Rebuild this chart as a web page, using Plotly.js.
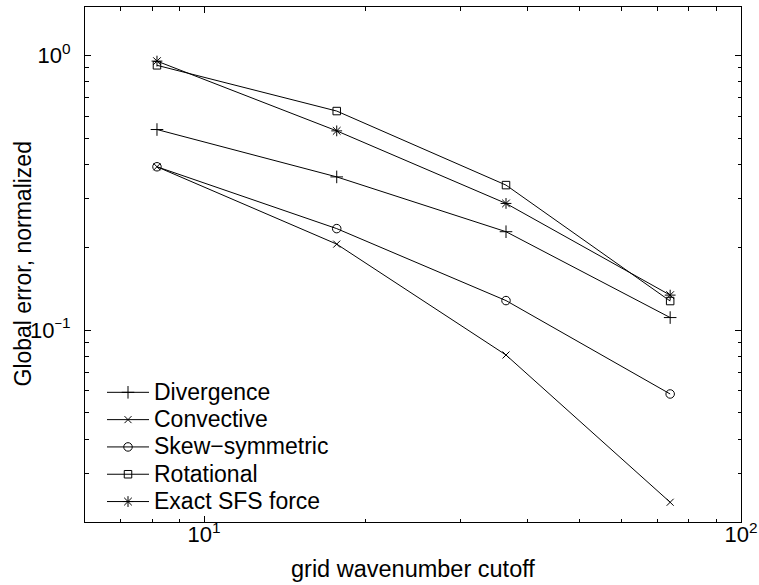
<!DOCTYPE html>
<html>
<head>
<meta charset="utf-8">
<script src="https://cdn.plot.ly/plotly-3.0.1.min.js"></script>
<style>
  html, body { margin: 0; padding: 0; background: #ffffff; }
  #chart { width: 759px; height: 585px; }
</style>
</head>
<body>
<div id="chart"></div>
<script>
// Grid wavenumber cutoffs (x) shared by every method
const cutoff = [8.17, 17.66, 36.5, 73.8];

// Normalized global error for each SGS formulation
const divergence    = [0.537, 0.361, 0.228, 0.111];
const convective    = [0.393, 0.2055, 0.0811, 0.0236];
const skewSymmetric = [0.393, 0.234, 0.128, 0.0585];
const rotational    = [0.920, 0.627, 0.337, 0.1275];
const exactSFS      = [0.953, 0.531, 0.289, 0.134];

// Decade tick positions and their labels
const xTickVals = [10, 100];
const xTickText = ['10<sup>1</sup>', '10<sup>2</sup>'];
const yTickVals = [0.1, 1];
// a slightly narrower minus keeps the exponent compact
const yTickText = ['10<sup><span style="font-size:13px">\u2212</span>1</sup>', '10<sup>0</sup>'];

const xTitle = 'grid wavenumber cutoff';
const yTitle = 'Global error, normalized';

const seriesNames = ['Divergence', 'Convective', 'Skew\u2212symmetric', 'Rotational', 'Exact SFS force'];
const seriesData  = [divergence, convective, skewSymmetric, rotational, exactSFS];
const seriesSymbols = ['cross-thin-open', 'x-thin-open', 'circle-open', 'square-open', 'asterisk-open'];
const symbolSizes   = [9, 7, 8.5, 7.5, 9];

const FONT = 'Liberation Sans, Arial, Helvetica, sans-serif';

const traces = seriesData.map((vals, i) => ({
  type: 'scatter',
  mode: 'lines+markers',
  // larger legend text while keeping compact row spacing
  name: '<span style="font-size:23px">' + seriesNames[i] + '</span>',
  x: cutoff,
  y: vals,
  line: { color: '#000000', width: 1 },
  marker: {
    symbol: seriesSymbols[i],
    size: symbolSizes[i],
    color: '#000000',
    line: { color: '#000000', width: 1 }
  }
}));

const axisCommon = {
  type: 'log',
  showline: true,
  linecolor: '#000000',
  linewidth: 1,
  mirror: 'ticks',
  ticks: 'inside',
  ticklen: 6,
  tickwidth: 1,
  tickcolor: '#000000',
  showgrid: false,
  zeroline: false,
  tickmode: 'array',
  tickfont: { family: FONT, size: 22, color: '#000000' },
  minor: { ticks: 'inside', ticklen: 3.5, dtick: 'D1', tickcolor: '#000000', tickwidth: 1, showgrid: false }
};

const layout = {
  width: 759,
  height: 585,
  margin: { l: 85, r: 18, t: 7, b: 63 },
  paper_bgcolor: '#ffffff',
  plot_bgcolor: '#ffffff',
  showlegend: true,
  font: { family: FONT, color: '#000000' },
  xaxis: Object.assign({}, axisCommon, {
    range: [Math.log10(6), 2],
    tickvals: xTickVals,
    ticktext: xTickText,
    ticklabelstandoff: -7
  }),
  yaxis: Object.assign({}, axisCommon, {
    range: [Math.log10(0.02), Math.log10(1.5)],
    tickvals: yTickVals,
    ticktext: yTickText,
    ticklabelstandoff: 9
  }),
  // axis titles placed as paper-anchored annotations
  annotations: [
    {
      text: xTitle, xref: 'paper', yref: 'paper',
      x: 0.5, y: -(569 - 522) / 515, xanchor: 'center', yanchor: 'middle',
      showarrow: false, font: { family: FONT, size: 23.5, color: '#000000' }
    },
    {
      text: yTitle, xref: 'paper', yref: 'paper',
      x: (22 - 85) / 656, y: 0.5, xanchor: 'center', yanchor: 'middle',
      textangle: -90, showarrow: false, font: { family: FONT, size: 23, color: '#000000' }
    }
  ],
  legend: {
    x: (102 - 85) / 656,
    y: 0.0026,
    xanchor: 'left',
    yanchor: 'bottom',
    itemwidth: 42,
    bgcolor: 'rgba(0,0,0,0)',
    borderwidth: 0,
    font: { family: FONT, size: 18.7, color: '#000000' }
  }
};

Plotly.newPlot('chart', traces, layout, { displayModeBar: false, staticPlot: true });
</script>
</body>
</html>
